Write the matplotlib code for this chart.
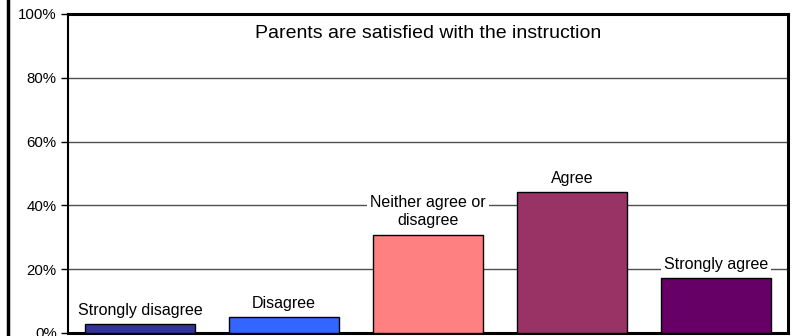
import matplotlib.pyplot as plt
from matplotlib.lines import Line2D
from matplotlib.ticker import PercentFormatter

plt.rcParams['font.family'] = ['Liberation Sans', 'DejaVu Sans']

categories = ["Strongly disagree", "Disagree", "Neither agree or\ndisagree",
              "Agree", "Strongly agree"]
shares = [2.7, 4.9, 30.8, 44.1, 17.3]
colors = ["#333399", "#3366FF", "#FF8080", "#993366", "#660066"]

fig = plt.figure(figsize=(7.97, 3.36), dpi=100)
ax = fig.add_axes([0.0853, 0.009, 0.9034, 0.9494])

x = range(len(categories))
ax.bar(x, shares, width=0.765, color=colors, edgecolor="black", linewidth=1, zorder=3)

for i, (label, v) in enumerate(zip(categories, shares)):
    ax.annotate(label, (i, v), xytext=(0, 4.5), textcoords="offset points",
                ha="center", va="bottom", fontsize=11.5, linespacing=1.3, zorder=4,
                bbox=dict(boxstyle="square,pad=0.2", fc="white", ec="none"))

ax.text(0.5, 0.9375, "Parents are satisfied with the instruction",
        transform=ax.transAxes, ha="center", va="center", fontsize=14)

ax.set_xlim(-0.5, len(categories) - 0.5)
ax.set_ylim(0, 100)
ax.set_yticks(range(0, 101, 20))
ax.yaxis.set_major_formatter(PercentFormatter(decimals=0))
ax.set_xticks([])
ax.tick_params(axis="y", length=5, width=1, labelsize=10.8, pad=3)
ax.yaxis.grid(True, color="#505050", linewidth=1, zorder=0)

for side in ["top", "right", "bottom"]:
    ax.spines[side].set_linewidth(2.2)
ax.spines["left"].set_linewidth(1.5)

# chart frame edge on the left
fig.add_artist(Line2D([0.0098, 0.0098], [0, 1], transform=fig.transFigure,
                      color="black", linewidth=2.5))

fig.savefig("out.png", dpi=100)
